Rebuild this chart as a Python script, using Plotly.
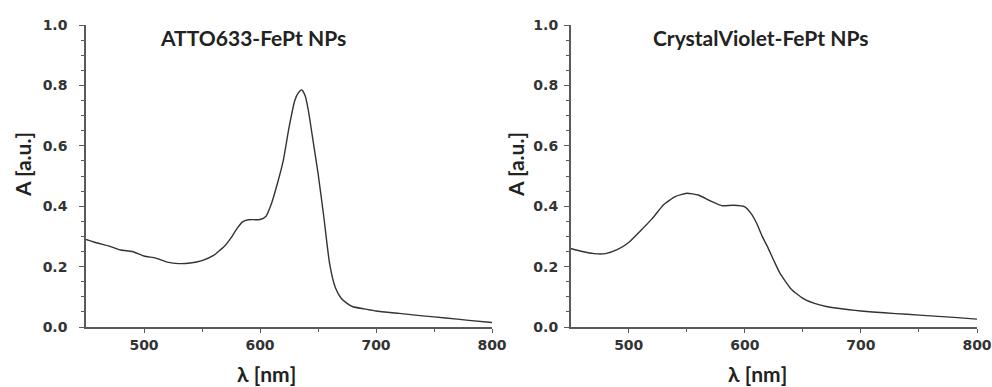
import plotly.graph_objects as go

# ---- data ----
wl_atto = [450, 460, 470, 480, 490, 500, 510, 520, 530, 540, 550, 560, 570, 575, 580, 585,
           590, 600, 605, 610, 615, 620, 625, 630, 633, 636, 639, 642, 645, 650, 655, 660,
           665, 670, 675, 680, 690, 700, 720, 740, 760, 780, 800]
abs_atto = [0.29, 0.278, 0.268, 0.255, 0.25, 0.235, 0.228, 0.215, 0.21, 0.212, 0.22, 0.237,
            0.27, 0.295, 0.325, 0.348, 0.355, 0.356, 0.366, 0.41, 0.475, 0.55, 0.66, 0.75,
            0.775, 0.785, 0.765, 0.71, 0.635, 0.51, 0.365, 0.21, 0.13, 0.095, 0.078, 0.067,
            0.06, 0.053, 0.045, 0.037, 0.03, 0.022, 0.015]

wl_cv = [450, 460, 470, 480, 490, 500, 510, 520, 530, 540, 550, 560, 570, 580, 590, 600,
         605, 610, 615, 620, 625, 630, 640, 650, 660, 670, 680, 690, 700, 720, 740, 760,
         780, 800]
abs_cv = [0.26, 0.25, 0.243, 0.243, 0.256, 0.28, 0.318, 0.358, 0.405, 0.432, 0.443, 0.437,
          0.418, 0.402, 0.403, 0.398, 0.378, 0.345, 0.3, 0.262, 0.22, 0.18, 0.125, 0.095,
          0.078, 0.068, 0.062, 0.057, 0.053, 0.047, 0.042, 0.037, 0.032, 0.026]

titles = ["ATTO633-FePt NPs", "CrystalViolet-FePt NPs"]
x_title = "λ [nm]"
y_title = "A [a.u.]"
x_ticks = [500, 600, 700, 800]
y_ticks = [0.0, 0.2, 0.4, 0.6, 0.8, 1.0]
y_ticktext = ["0.0", "0.2", "0.4", "0.6", "0.8", "1.0"]

W, H = 992, 387
LINE = "#333333"
AXIS = "#5a5a5a"
TICKFONT = dict(family="DejaVu Sans", size=14, color="#333333", weight="bold")
LABELFONT = dict(family="Lato", size=21, color="#222222", weight="bold")

fig = go.Figure()
fig.add_trace(go.Scatter(x=wl_atto, y=abs_atto, mode="lines", xaxis="x", yaxis="y",
                         line=dict(color=LINE, width=1.4, shape="spline", smoothing=0.5),
                         showlegend=False, hoverinfo="skip"))
fig.add_trace(go.Scatter(x=wl_cv, y=abs_cv, mode="lines", xaxis="x2", yaxis="y2",
                         line=dict(color=LINE, width=1.4, shape="spline", smoothing=0.5),
                         showlegend=False, hoverinfo="skip"))

ydom = [1 - 327 / H, 1 - 25 / H]
xdoms = [[86 / W, 492 / W], [570.7 / W, 977 / W]]


def xaxis(dom, anchor):
    return dict(domain=dom, anchor=anchor, range=[450, 800], tickvals=x_ticks,
                showline=True, linecolor=AXIS, linewidth=1.5, ticks="outside", ticklen=4,
                tickwidth=1.2, tickcolor=AXIS, tickfont=TICKFONT, showgrid=False,
                zeroline=False, fixedrange=True,
                minor=dict(tickvals=[550, 650, 750], ticks="outside", ticklen=3,
                           tickcolor=AXIS, tickwidth=1.2, showgrid=False))


def yaxis(anchor, standoff):
    return dict(domain=ydom, anchor=anchor, range=[0, 1.0], tickvals=y_ticks,
                ticktext=y_ticktext, showline=True, linecolor=AXIS, linewidth=1.5,
                ticks="outside", ticklen=5, tickwidth=1.2, tickcolor=AXIS,
                tickfont=TICKFONT, showgrid=False, zeroline=False, fixedrange=True,
                ticklabelstandoff=standoff,
                minor=dict(dtick=0.05, ticks="outside", ticklen=3, tickcolor=AXIS,
                           tickwidth=1, showgrid=False))


fig.update_layout(
    width=W, height=H,
    margin=dict(l=0, r=0, t=0, b=0, autoexpand=False),
    paper_bgcolor="white", plot_bgcolor="white",
    xaxis=xaxis(xdoms[0], "y"),
    yaxis=yaxis("x", 9),
    xaxis2=xaxis(xdoms[1], "y2"),
    yaxis2=yaxis("x2", 3),
)

ann = []
title_cx = [253, 760]
xt_cx = [266, 757]
yt_cx = [22, 515]
for i in range(2):
    ann.append(dict(text=titles[i], x=title_cx[i] / W, y=1 - 37 / H, xref="paper",
                    yref="paper", showarrow=False, xanchor="center", yanchor="middle",
                    font=LABELFONT))
    ann.append(dict(text=x_title, x=xt_cx[i] / W, y=1 - 373 / H, xref="paper",
                    yref="paper", showarrow=False, xanchor="center", yanchor="middle",
                    font=LABELFONT))
    ann.append(dict(text=y_title, x=yt_cx[i] / W, y=1 - 165 / H, xref="paper",
                    yref="paper", showarrow=False, xanchor="center", yanchor="middle",
                    textangle=-90, font=LABELFONT))
fig.update_layout(annotations=ann)

fig.write_html("out.html",
               config={"displayModeBar": False},
               post_script="document.body.style.margin='0';"
                           "document.documentElement.style.overflow='hidden';")
